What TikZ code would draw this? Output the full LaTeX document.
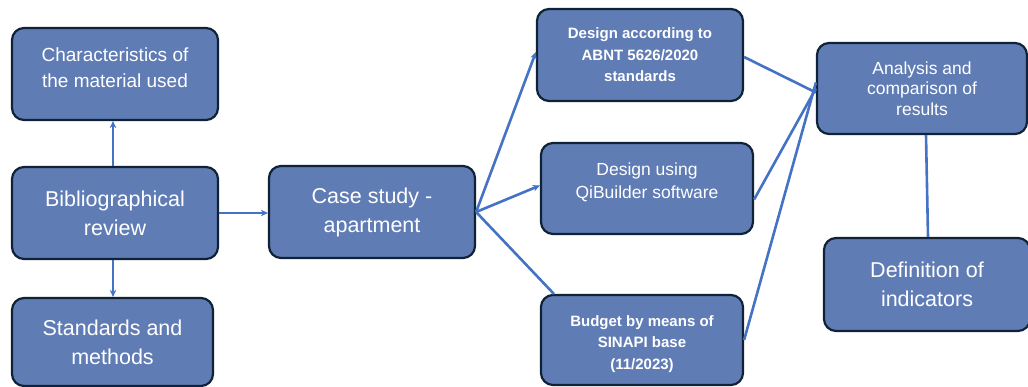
\documentclass[tikz,border=0pt]{standalone}
\usepackage{fontspec}
\setmainfont{Liberation Sans}
\usetikzlibrary{arrows.meta}
\definecolor{boxfill}{RGB}{96,124,181}
\definecolor{boxline}{RGB}{15,34,54}
\definecolor{link}{RGB}{68,114,196}
\tikzset{
  stagebox/.style={draw=boxline, fill=boxfill, line width=2.2pt, rounded corners=12pt,
    text=white, align=center, inner sep=2pt},
  bigtext/.style={font=\fontsize{21.5}{29}\selectfont},
  midtext/.style={font=\fontsize{17.5}{23}\selectfont},
  smallbold/.style={font=\fontsize{15}{21.5}\selectfont\bfseries},
  link/.style={draw=link, line width=2.6pt},
  linkarrow/.style={link, -{Stealth[length=7pt,width=6.5pt]}}
}
\begin{document}
\begin{tikzpicture}[x=1pt, y=-1pt]
\useasboundingbox (0,0) rectangle (1028,387);

% left column
\node[stagebox, minimum width=206pt, minimum height=92pt,
      font=\fontsize{19}{26}\selectfont] (char) at (115,74)
      {Characteristics of\\the material used\\[-14pt]\mbox{}};
\node[stagebox, bigtext, minimum width=206pt, minimum height=92pt] (bib) at (115,213)
      {Bibliographical\\review};
\node[stagebox, bigtext, minimum width=201pt, minimum height=88pt] (std) at (112.5,342)
      {Standards and\\methods};

% case study
\node[stagebox, bigtext, minimum width=206pt, minimum height=92pt] (case) at (372,212)
      {Case study -\\apartment};

% design and budget branches
\node[stagebox, smallbold, minimum width=206pt, minimum height=92pt] (abnt) at (640,55)
      {Design according to\\ABNT 5626/2020\\standards};
\node[stagebox, midtext, minimum width=212pt, minimum height=91pt] (qi) at (647,188.5)
      {Design using\\QiBuilder software\\[-7pt]\mbox{}};
\node[stagebox, smallbold, minimum width=202pt, minimum height=90pt] (bud) at (642,340)
      {\rule{0pt}{19pt}Budget by means of\\SINAPI base\\(11/2023)};

% results
\node[stagebox, font=\fontsize{17.5}{20.5}\selectfont, minimum width=210pt, minimum height=91pt]
      (anal) at (922,88.5) {Analysis and\\comparison of\\results};
\node[stagebox, bigtext, minimum width=206pt, minimum height=93pt] (def) at (927,284.5)
      {Definition of\\indicators};

% connectors
\draw[linkarrow] ([xshift=-2pt]bib.north) -- ([xshift=-2pt]bib.north |- char.south);
\draw[linkarrow] ([xshift=-2pt]bib.south) -- ([xshift=-2pt]bib.south |- std.north);
\draw[linkarrow] (bib.east) -- (bib.east -| case.west);

\draw[linkarrow] (case.east) -- ([yshift=3pt]abnt.west);
\draw[linkarrow] (case.east) -- ([yshift=3pt]qi.west);
\draw[link] (case.east) -- ([xshift=14pt]bud.north west);

\draw[link] ([yshift=-2pt]abnt.east) -- ([yshift=-4pt]anal.west);
\draw[link] ([yshift=-11pt]qi.east) -- (anal.west);
\draw[link] (bud.east) -- ([yshift=6pt]anal.west);

\draw[link] ([xshift=4pt]anal.south) -- ([xshift=1pt]def.north);
\end{tikzpicture}
\end{document}
